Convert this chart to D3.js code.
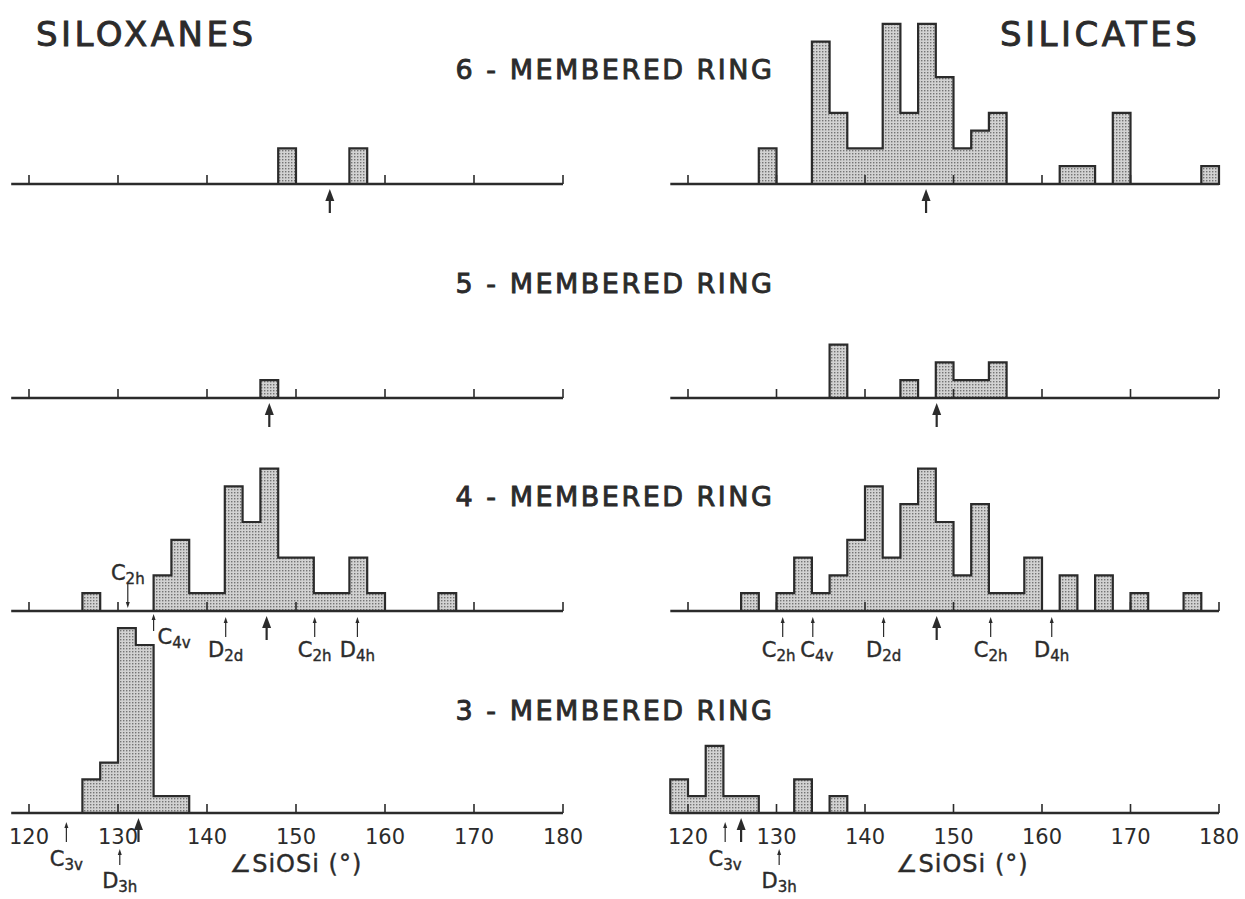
<!DOCTYPE html>
<html>
<head>
<meta charset="utf-8">
<script src="https://cdn.jsdelivr.net/npm/d3@7/dist/d3.min.js"></script>
<style>
  html, body { margin: 0; padding: 0; background: #fff; }
  svg { display: block; }
  text { font-family: "DejaVu Sans", sans-serif; fill: #2b2b2b; }
</style>
</head>
<body>
<svg id="chart" width="1245" height="899"></svg>
<script>
// Histograms of Si-O-Si angles, 2 degree bins: [lower edge of bin, count]
var binWidth = 2;
var ticks = [120, 130, 140, 150, 160, 170, 180];
var rings = [6, 5, 4, 3];

var siloxane6 = [[148, 2], [156, 2]];
var siloxane5 = [[146, 1]];
var siloxane4 = [[126, 1], [134, 2], [136, 4], [138, 1], [140, 1], [142, 7], [144, 5], [146, 8],
                 [148, 3], [150, 3], [152, 1], [154, 1], [156, 3], [158, 1], [166, 1]];
var siloxane3 = [[126, 2], [128, 3], [130, 11], [132, 10], [134, 1], [136, 1]];

var silicate6 = [[128, 2], [134, 8], [136, 4], [138, 2], [140, 2], [142, 9], [144, 4], [146, 9],
                 [148, 6], [150, 2], [152, 3], [154, 4], [162, 1], [164, 1], [168, 4], [178, 1]];
var silicate5 = [[136, 3], [144, 1], [148, 2], [150, 1], [152, 1], [154, 2]];
var silicate4 = [[126, 1], [130, 1], [132, 3], [134, 1], [136, 2], [138, 4], [140, 7], [142, 3],
                 [144, 6], [146, 8], [148, 5], [150, 2], [152, 6], [154, 1], [156, 1], [158, 3],
                 [162, 2], [166, 2], [170, 1], [176, 1]];
var silicate3 = [[118, 2], [120, 1], [122, 4], [124, 1], [126, 1], [132, 2], [136, 1]];

// mean angle arrows, per ring (6, 5, 4, 3)
var siloxaneMeans = [153.8, 147.0, 146.7, 132.3];
var silicateMeans = [146.9, 148.1, 148.1, 126.0];

// symmetry markers: [letter, subscript, angle, placement]
var siloxane4Sym = [["C", "2h", 131.1, "above"], ["C", "4v", 134.0, "side"], ["D", "2d", 142.1, "below"],
                    ["C", "2h", 152.1, "below"], ["D", "4h", 156.9, "below"]];
var silicate4Sym = [["C", "2h", 130.7, "belowL"], ["C", "4v", 134.1, "belowR"], ["D", "2d", 142.1, "below"],
                    ["C", "2h", 154.2, "below"], ["D", "4h", 161.1, "below"]];
var siloxane3Sym = [["C", "3v", 124.2, "low"], ["D", "3h", 130.2, "lower"]];
var silicate3Sym = [["C", "3v", 124.2, "low"], ["D", "3h", 130.3, "lower"]];

// ---- layout ----
var ink = "#2b2b2b";
var rows = [
  {axisY: 184, unit: 17.8, titleY: 79},
  {axisY: 398, unit: 17.8, titleY: 293},
  {axisY: 611, unit: 17.8, titleY: 506},
  {axisY: 813, unit: 16.8, titleY: 720}
];
var panels = [
  {name: "SILOXANES", nameX: 36, range: [29, 563], titleAt: 150,
   hists: [siloxane6, siloxane5, siloxane4, siloxane3], means: siloxaneMeans,
   syms: [[], [], siloxane4Sym, siloxane3Sym]},
  {name: "SILICATES", nameX: 1000, range: [688, 1219], titleAt: 151,
   hists: [silicate6, silicate5, silicate4, silicate3], means: silicateMeans,
   syms: [[], [], silicate4Sym, silicate3Sym]}
];
// arrow start/end (relative to axis), label baseline, label anchor
var placements = {
  above:  {y1: -27, y2: -3, ty: -31, anchor: "middle", dx: 0},
  side:   {y1: 20, y2: 3, ty: 33, anchor: "start", dx: 4},
  below:  {y1: 26, y2: 6, ty: 46, anchor: "middle", dx: 0},
  belowL: {y1: 26, y2: 6, ty: 46, anchor: "middle", dx: -4},
  belowR: {y1: 26, y2: 6, ty: 46, anchor: "middle", dx: 4},
  low:    {y1: 29, y2: 9, ty: 53, anchor: "middle", dx: 0},
  lower:  {y1: 52, y2: 36, ty: 75, anchor: "middle", dx: 0}
};

var svg = d3.select("#chart");
var defs = svg.append("defs");
var pat = defs.append("pattern").attr("id", "stipple")
    .attr("patternUnits", "userSpaceOnUse").attr("width", 3).attr("height", 3);
pat.append("rect").attr("width", 3).attr("height", 3).attr("fill", "#d2d2d2");
pat.append("rect").attr("width", 1.4).attr("height", 1.4).attr("fill", "#747474");

// Group bins into contiguous runs so each run is outlined as one step envelope
function runsOf(bins) {
  var runs = [], cur = null;
  bins.forEach(function(b) {
    if (cur && b[0] === cur[cur.length - 1][0] + binWidth) cur.push(b);
    else { cur = [b]; runs.push(cur); }
  });
  return runs;
}

function arrowHead(g, x, tipY, dir, w, h) {
  // dir = -1 points up, +1 points down
  g.append("path")
    .attr("d", "M" + x + "," + tipY + "L" + (x - w / 2) + "," + (tipY - dir * h) +
               "L" + (x + w / 2) + "," + (tipY - dir * h) + "Z")
    .attr("fill", ink);
}

function symLabel(g, x, y, letter, sub, anchor) {
  var t = g.append("text").attr("x", x).attr("y", y)
      .attr("text-anchor", anchor).attr("font-size", 21)
      .attr("stroke", ink).attr("stroke-width", 0.4);
  t.append("tspan").text(letter);
  t.append("tspan").attr("dy", 4).attr("font-size", 15).text(sub);
}

panels.forEach(function(p) {
  var x = d3.scaleLinear().domain([120, 180]).range(p.range);

  svg.append("text").attr("x", p.nameX).attr("y", 46)
      .attr("font-size", 34).attr("letter-spacing", 3.5)
      .attr("stroke", ink).attr("stroke-width", 0.9)
      .text(p.name);

  rows.forEach(function(r, i) {
    var y = d3.scaleLinear().domain([0, 1]).range([r.axisY, r.axisY - r.unit]);
    var g = svg.append("g");

    // histogram envelopes
    var line = d3.line().x(function(d) { return x(d[0]); }).y(function(d) { return y(d[1]); });
    runsOf(p.hists[i]).forEach(function(run) {
      var pts = [[run[0][0], 0]];
      run.forEach(function(b) { pts.push([b[0], b[1]], [b[0] + binWidth, b[1]]); });
      pts.push([run[run.length - 1][0] + binWidth, 0]);
      g.append("path").attr("d", line(pts) + "Z")
        .attr("fill", "url(#stipple)").attr("stroke", ink)
        .attr("stroke-width", 2.2).attr("stroke-linejoin", "miter");
    });

    // axis line and upward ticks
    g.append("line").attr("x1", x(118)).attr("x2", x(180))
      .attr("y1", r.axisY).attr("y2", r.axisY)
      .attr("stroke", ink).attr("stroke-width", 2.6);
    g.selectAll(".tick").data(ticks).enter().append("line")
      .attr("x1", function(d) { return x(d); }).attr("x2", function(d) { return x(d); })
      .attr("y1", r.axisY).attr("y2", r.axisY - 9)
      .attr("stroke", ink).attr("stroke-width", 1.6);

    // mean arrow
    var mx = x(p.means[i]);
    g.append("line").attr("x1", mx).attr("x2", mx)
      .attr("y1", r.axisY + 29).attr("y2", r.axisY + 12)
      .attr("stroke", ink).attr("stroke-width", 2.2);
    arrowHead(g, mx, r.axisY + 5, -1, 9, 12);

    // symmetry markers
    p.syms[i].forEach(function(s) {
      var pl = placements[s[3]];
      var sx = x(s[2]);
      var dir = pl.y2 < pl.y1 ? -1 : 1;
      g.append("line").attr("x1", sx).attr("x2", sx)
        .attr("y1", r.axisY + pl.y1).attr("y2", r.axisY + pl.y2 - dir * 5)
        .attr("stroke", ink).attr("stroke-width", 1.2);
      arrowHead(g, sx, r.axisY + pl.y2, dir, 4, 6);
      symLabel(g, sx + pl.dx, r.axisY + pl.ty, s[0], s[1], pl.anchor);
    });

    // ring title, once per row (centred between panels)
    if (p.name === "SILOXANES") {
      svg.append("text").attr("x", 615).attr("y", r.titleY)
        .attr("text-anchor", "middle").attr("font-size", 27)
        .attr("letter-spacing", 2.5).attr("stroke", ink).attr("stroke-width", 0.9)
        .text(rings[i] + " - MEMBERED RING");
    }

    // tick labels and axis title only on the bottom row
    if (i === rows.length - 1) {
      g.selectAll(".tl").data(ticks).enter().append("text")
        .attr("x", function(d) { return x(d); }).attr("y", r.axisY + 31)
        .attr("text-anchor", "middle").attr("font-size", 21)
        .text(function(d) { return d; });
      g.append("text").attr("x", x(p.titleAt)).attr("y", r.axisY + 59)
        .attr("text-anchor", "middle").attr("font-size", 24).attr("letter-spacing", 1)
        .attr("stroke", ink).attr("stroke-width", 0.4)
        .text("\u2220SiOSi (\u00b0)");
    }
  });
});
</script>
</body>
</html>
